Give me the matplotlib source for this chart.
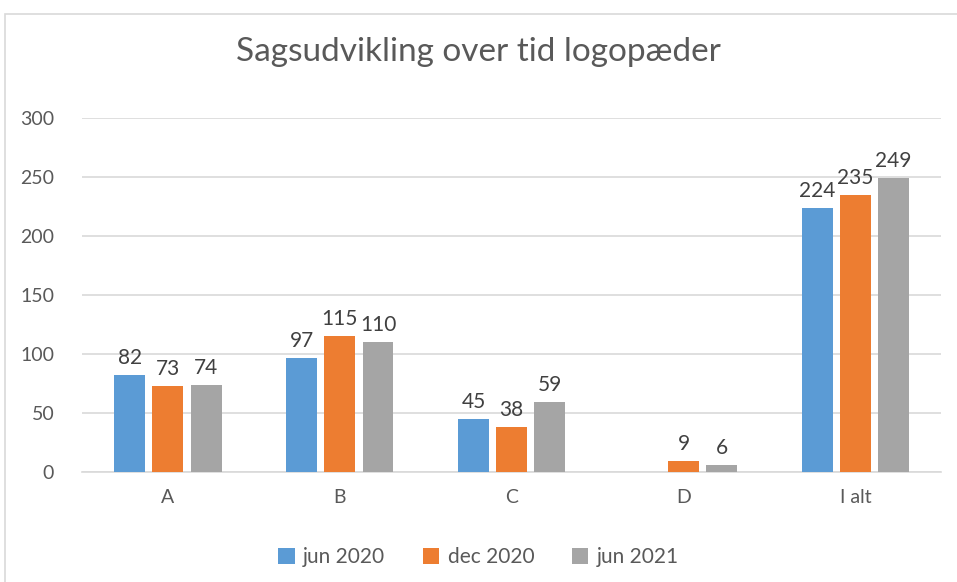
import matplotlib.pyplot as plt
import numpy as np
from matplotlib.patches import Rectangle

# %%
categories = ['A', 'B', 'C', 'D', 'I alt']
series = ['jun 2020', 'dec 2020', 'jun 2021']
jun_2020 = [82, 97, 45, np.nan, 224]
dec_2020 = [73, 115, 38, 9, 235]
jun_2021 = [74, 110, 59, 6, 249]
colors = ['#5b9bd5', '#ed7d31', '#a5a5a5']

plt.rcParams['font.family'] = ['Lato', 'DejaVu Sans']

# %%
fig = plt.figure(figsize=(9.57, 5.82), dpi=100)
ax = fig.add_axes([0.0857, 0.189, 0.898, 0.608])

# chart border
fig.patches.append(Rectangle((5 / 957, -0.1), 2, 1 - 14 / 582 + 0.1, transform=fig.transFigure,
                             fill=False, edgecolor='#d9d9d9', linewidth=1.2))

x = np.arange(len(categories))
width = 0.18
step = 0.222
for i, (name, values, color) in enumerate(zip(series, [jun_2020, dec_2020, jun_2021], colors)):
    pos = x + (i - 1) * step
    ax.bar(pos, values, width=width, color=color, label=name, zorder=3)
    for px, v in zip(pos, values):
        if not np.isnan(v):
            ax.text(px, v + 6, f'{v:.0f}', ha='center', va='bottom', fontsize=15, color='#404040')

ax.set_xlim(-0.5, len(categories) - 0.5)
ax.set_ylim(0, 300)
ax.set_yticks(range(0, 301, 50))
ax.set_xticks(x, categories)
ax.tick_params(axis='both', length=0, labelsize=14, labelcolor='#595959')
ax.tick_params(axis='x', pad=12)
ax.tick_params(axis='y', pad=20)
ax.grid(axis='y', color='#d9d9d9', linewidth=1.2, zorder=0)
for side in ['top', 'right', 'left']:
    ax.spines[side].set_visible(False)
ax.spines['bottom'].set_color('#d9d9d9')
ax.spines['bottom'].set_linewidth(1.2)

fig.text(0.5, 1 - 52 / 582, 'Sagsudvikling over tid logopæder', ha='center', va='center',
         fontsize=24, color='#595959')

fig.legend(loc='center', bbox_to_anchor=(0.5, 1 - 557 / 582), ncol=3, frameon=False,
           fontsize=15, handlelength=0.8, handleheight=0.8, columnspacing=1.8, handletextpad=0.4,
           labelcolor='#595959')

fig.savefig('out.png')
